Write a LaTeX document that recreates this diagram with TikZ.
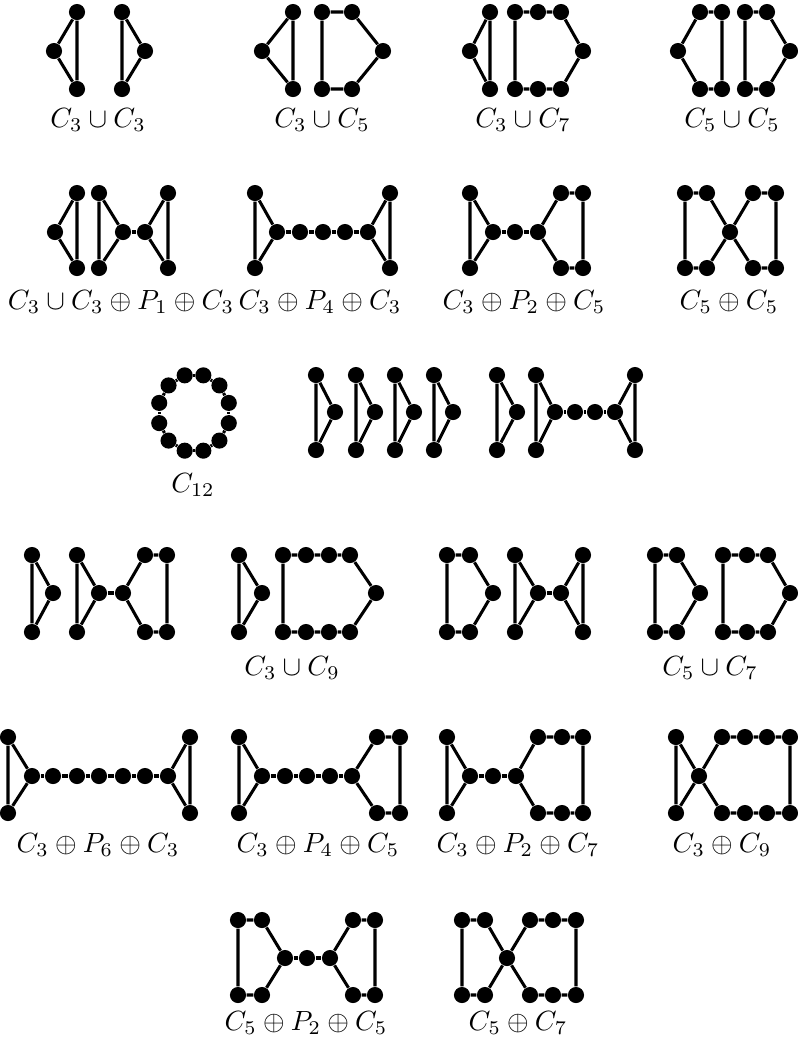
\documentclass[tikz,border=0pt]{standalone}
\begin{document}
\begin{tikzpicture}[x=0.36pt,y=-0.36pt,
  v/.style={circle,fill=black,inner sep=0pt,minimum size=5.8pt},
  e/.style={line width=1.1pt},
  lab/.style={inner sep=0pt}]
\useasboundingbox (0,0) rectangle (798,1045);
\newcommand\V[3]{\node[v] (#1) at (#2,#3) {};}
% ---------- Row 1 ----------
\def\T{12}\def\M{51}\def\B{89}
\V{a1}{77}{\T}\V{a2}{54}{\M}\V{a3}{77}{\B}
\V{a4}{122}{\T}\V{a5}{145}{\M}\V{a6}{122}{\B}
\draw[e] (a1)--(a2)--(a3)--(a1);
\draw[e] (a4)--(a5)--(a6)--(a4);
\node[lab] (la) at (98,120) {$C_3\cup C_3$};
\V{b1}{293}{\T}\V{b2}{262}{\M}\V{b3}{293}{\B}
\V{b4}{322}{\T}\V{b5}{352}{\T}\V{b6}{383}{\M}\V{b7}{352}{\B}\V{b8}{322}{\B}
\draw[e] (b1)--(b2)--(b3)--(b1);
\draw[e] (b4)--(b5)--(b6)--(b7)--(b8)--(b4);
\node[lab] (lb) at (322,120) {$C_3\cup C_5$};
\V{c1}{490}{\T}\V{c2}{470}{\M}\V{c3}{490}{\B}
\V{c4}{515}{\T}\V{c5}{538}{\T}\V{c6}{561}{\T}\V{c7}{583}{\M}\V{c8}{561}{\B}\V{c9}{538}{\B}\V{c10}{515}{\B}
\draw[e] (c1)--(c2)--(c3)--(c1);
\draw[e] (c4)--(c5)--(c6)--(c7)--(c8)--(c9)--(c10)--(c4);
\node[lab] (lc) at (523,120) {$C_3\cup C_7$};
\V{d1}{678}{\M}\V{d2}{700}{\T}\V{d3}{722}{\T}\V{d4}{722}{\B}\V{d5}{700}{\B}
\V{d6}{745}{\T}\V{d7}{767}{\T}\V{d8}{790}{\M}\V{d9}{767}{\B}\V{d10}{745}{\B}
\draw[e] (d1)--(d2)--(d3)--(d4)--(d5)--(d1);
\draw[e] (d6)--(d7)--(d8)--(d9)--(d10)--(d6);
\node[lab] (ld) at (732,120) {$C_5\cup C_5$};
% ---------- Row 2 ----------
\def\T{193}\def\M{232}\def\B{268}
\V{e1}{77}{\T}\V{e2}{55}{\M}\V{e3}{77}{\B}
\V{e4}{99}{\T}\V{e5}{99}{\B}\V{e6}{123}{\M}\V{e7}{145}{\M}\V{e8}{168}{\T}\V{e9}{168}{\B}
\draw[e] (e1)--(e2)--(e3)--(e1);
\draw[e] (e4)--(e6)--(e5)--(e4);
\draw[e] (e6)--(e7);
\draw[e] (e7)--(e8)--(e9)--(e7);
\node[lab] (le) at (121,302) {$C_3\cup C_3\oplus P_1\oplus C_3$};
\V{f1}{255}{\T}\V{f2}{255}{\B}\V{f3}{277}{\M}\V{f4}{300}{\M}\V{f5}{323}{\M}\V{f6}{345}{\M}\V{f7}{368}{\M}\V{f8}{390}{\T}\V{f9}{390}{\B}
\draw[e] (f1)--(f3)--(f2)--(f1);
\draw[e] (f3)--(f4)--(f5)--(f6)--(f7);
\draw[e] (f7)--(f8)--(f9)--(f7);
\node[lab] (lf) at (320,302) {$C_3\oplus P_4\oplus C_3$};
\V{g1}{470}{\T}\V{g2}{470}{\B}\V{g3}{493}{\M}\V{g4}{515}{\M}\V{g5}{538}{\M}\V{g6}{561}{\T}\V{g7}{583}{\T}\V{g8}{583}{\B}\V{g9}{561}{\B}
\draw[e] (g1)--(g3)--(g2)--(g1);
\draw[e] (g3)--(g4)--(g5);
\draw[e] (g5)--(g6)--(g7)--(g8)--(g9)--(g5);
\node[lab] (lg) at (524,302) {$C_3\oplus P_2\oplus C_5$};
\V{h1}{685}{\T}\V{h2}{707}{\T}\V{h3}{730}{\M}\V{h4}{707}{\B}\V{h5}{685}{\B}\V{h6}{753}{\T}\V{h7}{776}{\T}\V{h8}{776}{\B}\V{h9}{753}{\B}
\draw[e] (h1)--(h2)--(h3)--(h4)--(h5)--(h1);
\draw[e] (h3)--(h6)--(h7)--(h8)--(h9)--(h3);
\node[lab] (lh) at (729,302) {$C_5\oplus C_5$};
% ---------- Row 3 ----------
\def\T{375}\def\M{412}\def\B{450}
\foreach \i in {1,...,12}{\node[v] (z\i) at ({194+36*cos(15+30*\i)},{413+39*sin(15+30*\i)}) {};}
\foreach \i [evaluate=\i as \j using {int(mod(\i,12)+1)}] in {1,...,12}{\draw[e] (z\i)--(z\j);}
\node[lab] (lz) at (193,485) {$C_{12}$};
\V{i1}{316}{\T}\V{i2}{335}{\M}\V{i3}{316}{\B}
\V{i4}{356}{\T}\V{i5}{375}{\M}\V{i6}{356}{\B}
\V{i7}{395}{\T}\V{i8}{414}{\M}\V{i9}{395}{\B}
\V{i10}{434}{\T}\V{i11}{453}{\M}\V{i12}{434}{\B}
\V{i13}{497}{\T}\V{i14}{517}{\M}\V{i15}{497}{\B}
\draw[e] (i1)--(i2)--(i3)--(i1);
\draw[e] (i4)--(i5)--(i6)--(i4);
\draw[e] (i7)--(i8)--(i9)--(i7);
\draw[e] (i10)--(i11)--(i12)--(i10);
\draw[e] (i13)--(i14)--(i15)--(i13);
\V{j1}{536}{\T}\V{j2}{536}{\B}\V{j3}{555}{\M}\V{j4}{575}{\M}\V{j5}{595}{\M}\V{j6}{615}{\M}\V{j7}{635}{\T}\V{j8}{635}{\B}
\draw[e] (j1)--(j3)--(j2)--(j1);
\draw[e] (j3)--(j4)--(j5)--(j6);
\draw[e] (j6)--(j7)--(j8)--(j6);
% ---------- Row 4 ----------
\def\T{555}\def\M{593}\def\B{632}
\V{k1}{32}{\T}\V{k2}{53}{\M}\V{k3}{32}{\B}
\draw[e] (k1)--(k2)--(k3)--(k1);
\V{l1}{77}{\T}\V{l2}{77}{\B}\V{l3}{99}{\M}\V{l4}{123}{\M}\V{l5}{145}{\T}\V{l6}{167}{\T}\V{l7}{167}{\B}\V{l8}{145}{\B}
\draw[e] (l1)--(l3)--(l2)--(l1);
\draw[e] (l3)--(l4);
\draw[e] (l4)--(l5)--(l6)--(l7)--(l8)--(l4);
\V{m1}{239}{\T}\V{m2}{239}{\B}\V{m3}{262}{\M}
\V{m4}{283}{\T}\V{m5}{306}{\T}\V{m6}{329}{\T}\V{m7}{350}{\T}\V{m8}{376}{\M}\V{m9}{350}{\B}\V{m10}{329}{\B}\V{m11}{306}{\B}\V{m12}{283}{\B}
\draw[e] (m1)--(m3)--(m2)--(m1);
\draw[e] (m4)--(m5)--(m6)--(m7)--(m8)--(m9)--(m10)--(m11)--(m12)--(m4);
\node[lab] (lm) at (292,668) {$C_3\cup C_9$};
\V{n1}{447}{\T}\V{n2}{470}{\T}\V{n3}{493}{\M}\V{n4}{470}{\B}\V{n5}{447}{\B}
\draw[e] (n1)--(n2)--(n3)--(n4)--(n5)--(n1);
\V{o1}{515}{\T}\V{o2}{515}{\B}\V{o3}{538}{\M}\V{o4}{561}{\M}\V{o5}{583}{\T}\V{o6}{583}{\B}
\draw[e] (o1)--(o3)--(o2)--(o1);
\draw[e] (o3)--(o4);
\draw[e] (o4)--(o5)--(o6)--(o4);
\V{p1}{655}{\T}\V{p2}{677}{\T}\V{p3}{700}{\M}\V{p4}{677}{\B}\V{p5}{655}{\B}
\V{p6}{723}{\T}\V{p7}{747}{\T}\V{p8}{768}{\T}\V{p9}{790}{\M}\V{p10}{768}{\B}\V{p11}{747}{\B}\V{p12}{723}{\B}
\draw[e] (p1)--(p2)--(p3)--(p4)--(p5)--(p1);
\draw[e] (p6)--(p7)--(p8)--(p9)--(p10)--(p11)--(p12)--(p6);
\node[lab] (lp) at (710,668) {$C_5\cup C_7$};
% ---------- Row 5 ----------
\def\T{737}\def\M{776}\def\B{813}
\V{q1}{8}{\T}\V{q2}{8}{\B}\V{q3}{32}{\M}\V{q4}{53}{\M}\V{q5}{77}{\M}\V{q6}{99}{\M}\V{q7}{123}{\M}\V{q8}{145}{\M}\V{q9}{168}{\M}\V{q10}{190}{\T}\V{q11}{190}{\B}
\draw[e] (q1)--(q3)--(q2)--(q1);
\draw[e] (q3)--(q4)--(q5)--(q6)--(q7)--(q8)--(q9);
\draw[e] (q9)--(q10)--(q11)--(q9);
\node[lab] (lq) at (98,845) {$C_3\oplus P_6\oplus C_3$};
\V{r1}{239}{\T}\V{r2}{239}{\B}\V{r3}{262}{\M}\V{r4}{285}{\M}\V{r5}{307}{\M}\V{r6}{330}{\M}\V{r7}{352}{\M}\V{r8}{377}{\T}\V{r9}{400}{\T}\V{r10}{400}{\B}\V{r11}{377}{\B}
\draw[e] (r1)--(r3)--(r2)--(r1);
\draw[e] (r3)--(r4)--(r5)--(r6)--(r7);
\draw[e] (r7)--(r8)--(r9)--(r10)--(r11)--(r7);
\node[lab] (lr) at (318,845) {$C_3\oplus P_4\oplus C_5$};
\V{s1}{447}{\T}\V{s2}{447}{\B}\V{s3}{470}{\M}\V{s4}{493}{\M}\V{s5}{516}{\M}\V{s6}{538}{\T}\V{s7}{562}{\T}\V{s8}{583}{\T}\V{s9}{583}{\B}\V{s10}{562}{\B}\V{s11}{538}{\B}
\draw[e] (s1)--(s3)--(s2)--(s1);
\draw[e] (s3)--(s4)--(s5);
\draw[e] (s5)--(s6)--(s7)--(s8)--(s9)--(s10)--(s11)--(s5);
\node[lab] (ls) at (518,845) {$C_3\oplus P_2\oplus C_7$};
\V{t1}{676}{\T}\V{t2}{676}{\B}\V{t3}{699}{\M}\V{t4}{722}{\T}\V{t5}{745}{\T}\V{t6}{767}{\T}\V{t7}{790}{\T}\V{t8}{790}{\B}\V{t9}{767}{\B}\V{t10}{745}{\B}\V{t11}{722}{\B}
\draw[e] (t1)--(t3)--(t2)--(t1);
\draw[e] (t3)--(t4)--(t5)--(t6)--(t7)--(t8)--(t9)--(t10)--(t11)--(t3);
\node[lab] (lt) at (722,845) {$C_3\oplus C_9$};
% ---------- Row 6 ----------
\def\T{920}\def\M{958}\def\B{995}
\V{u1}{238}{\T}\V{u2}{262}{\T}\V{u3}{285}{\M}\V{u4}{307}{\M}\V{u5}{330}{\M}\V{u6}{353}{\T}\V{u7}{375}{\T}\V{u8}{375}{\B}\V{u9}{353}{\B}\V{u10}{262}{\B}\V{u11}{238}{\B}
\draw[e] (u1)--(u2)--(u3)--(u10)--(u11)--(u1);
\draw[e] (u3)--(u4)--(u5);
\draw[e] (u5)--(u6)--(u7)--(u8)--(u9)--(u5);
\node[lab] (lu) at (306,1023) {$C_5\oplus P_2\oplus C_5$};
\V{w1}{462}{\T}\V{w2}{485}{\T}\V{w3}{507}{\M}\V{w4}{485}{\B}\V{w5}{462}{\B}
\V{w6}{530}{\T}\V{w7}{553}{\T}\V{w8}{576}{\T}\V{w9}{576}{\B}\V{w10}{553}{\B}\V{w11}{530}{\B}
\draw[e] (w1)--(w2)--(w3)--(w4)--(w5)--(w1);
\draw[e] (w3)--(w6)--(w7)--(w8)--(w9)--(w10)--(w11)--(w3);
\node[lab] (lw) at (518,1023) {$C_5\oplus C_7$};
\end{tikzpicture}
\end{document}
